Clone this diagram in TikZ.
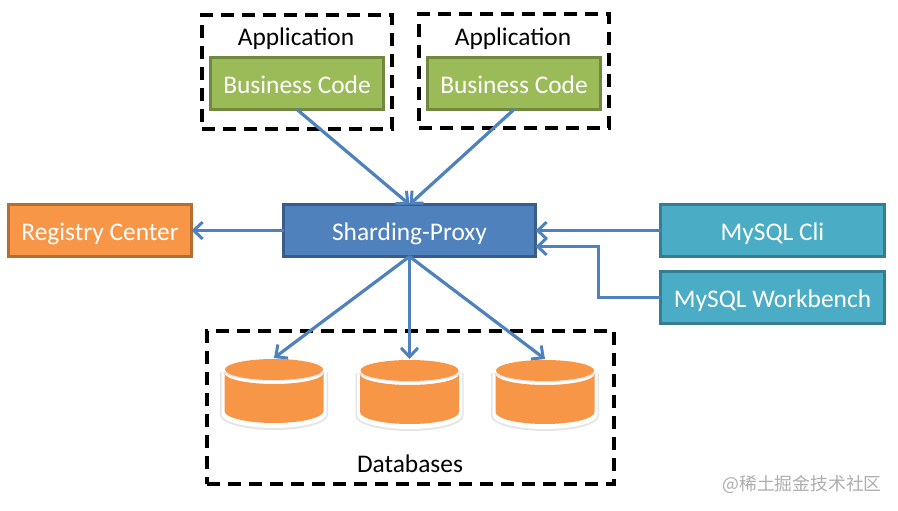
\documentclass[tikz,border=0pt]{standalone}
\usepackage{fontspec}
\setmainfont{Carlito}
\newfontfamily\cjkwm{Noto Sans CJK SC}
\usetikzlibrary{arrows.meta,calc,positioning}
\definecolor{lineblue}{HTML}{4F81BD}
\definecolor{proxyb}{HTML}{385D8A}
\definecolor{grn}{HTML}{9BBB59}
\definecolor{grnb}{HTML}{71893F}
\definecolor{org}{HTML}{F79646}
\definecolor{orgb}{HTML}{B66D31}
\definecolor{teal2}{HTML}{4BACC6}
\definecolor{tealb}{HTML}{357D91}
\tikzset{
  boxbase/.style={draw,line width=2.6pt,anchor=north west,outer sep=0pt,inner sep=0pt,text=white,text height=20pt,text depth=0.5pt,font=\fontsize{25.4}{28}\selectfont},
  greenbox/.style={boxbase,fill=grn,draw=grnb,minimum width=173pt,minimum height=52pt},
  bluebox/.style={boxbase,fill=lineblue,draw=proxyb,minimum width=252pt,minimum height=52pt},
  orangebox/.style={boxbase,fill=org,draw=orgb,minimum width=183pt,minimum height=52pt},
  tealbox/.style={boxbase,fill=teal2,draw=tealb,minimum width=224pt,minimum height=52pt},
  group/.style={draw=black,line width=3.2pt,dash pattern=on 13pt off 8pt,anchor=north west,outer sep=0pt,inner sep=0pt},
  lbl/.style={inner sep=0pt,text=black,text height=20pt,text depth=0.5pt,font=\fontsize{25.4}{28}\selectfont},
  conn/.style={draw=lineblue,line width=3.2pt,-{Straight Barb[length=9pt,width=17pt,line width=3pt]}},
  dbslot/.style={minimum width=105pt,minimum height=70pt,inner sep=0pt,outer sep=0pt,anchor=north},
}
\begin{document}
\begin{tikzpicture}[x=1pt,y=-1pt]
\useasboundingbox (0,0) rectangle (898,511);
\fill[white] (0,0) rectangle (898,511);
% groups
\node[group,minimum width=190pt,minimum height=114pt] (g1) at (202,15) {};
\node[group,minimum width=190pt,minimum height=114pt] (g2) at (419,14) {};
\node[group,minimum width=407pt,minimum height=153pt] (g3) at (207,331) {};
\node[lbl] (a1) at (296,36) {Application};
\node[lbl] (a2) at (513,35.5) {Application};
\node[lbl] (dbl) at (410,462.5) {Databases};
% boxes
\node[greenbox] (b1) at (210.5,57.5) {Business Code};
\node[greenbox] (b2) at (427.5,57.5) {Business Code};
\node[bluebox] (proxy) at (283.5,204.5) {Sharding-Proxy};
\node[orangebox] (reg) at (8.5,204.5) {Registry Center};
\node[tealbox] (cli) at (660.5,204.5) {MySQL Cli};
\node[tealbox] (wb) at (660.5,271.5) {MySQL Workbench};
% cylinders
\foreach \n/\cx/\ty in {d1/274/358,d2/409.5/359,d3/545/359}{
  \node[dbslot] (\n) at (\cx,\ty) {};
  \begin{scope}[shift={(\cx,\ty)}]
    \fill[black!10] (-54,14) -- (-54,57) arc[start angle=180,end angle=0,x radius=54,y radius=15] -- (54,14) -- cycle;
    \fill[white] (-52.5,12) -- (-52.5,56) arc[start angle=180,end angle=0,x radius=52.5,y radius=14] -- (52.5,12) arc[start angle=0,end angle=180,x radius=52.5,y radius=11] -- cycle;
    \fill[org] (-49.5,15) -- (-49.5,53) arc[start angle=180,end angle=0,x radius=49.5,y radius=12] -- (49.5,15) arc[start angle=0,end angle=180,x radius=49.5,y radius=11] -- cycle;
    \fill[org] (0,11.5) ellipse[x radius=49,y radius=10.5];
  \end{scope}
}
% connectors
\draw[conn] (b1.south) -- (proxy.north);
\draw[conn] (b2.south) -- (proxy.north);
\draw[conn] (proxy.west) -- (reg.east);
\draw[conn] (cli.west) -- (proxy.east);
\coordinate (pin) at ($(proxy.south east)+(0,-10)$);
\draw[conn] (wb.west) -- ++(-62,0) |- (pin);
\draw[conn] (proxy.south) -- (d1.north);
\draw[conn] (proxy.south) -- (d2.north);
\draw[conn] (proxy.south) -- (d3.north);
% watermark
\node[inner sep=0pt,text=black!32,font=\cjkwm\fontsize{17.8}{20}\selectfont] (wm) at (802,484) {@稀土掘金技术社区};
\end{tikzpicture}
\end{document}
